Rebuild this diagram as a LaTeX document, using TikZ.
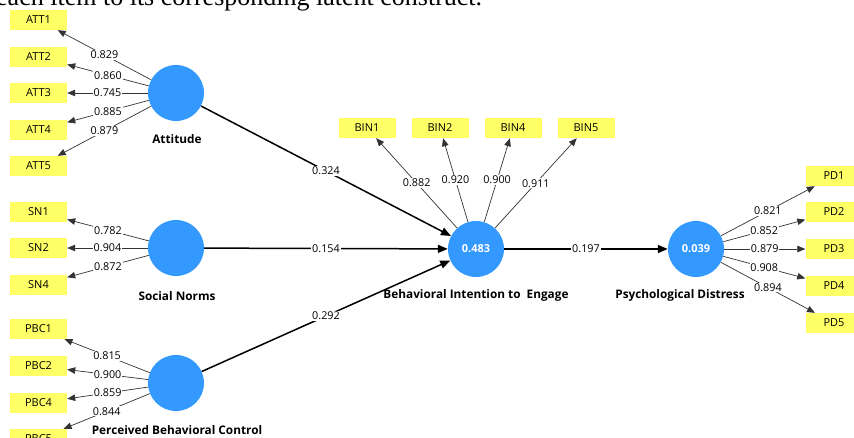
\documentclass[tikz,border=0pt]{standalone}
\usepackage{fontspec}
\setmainfont{Liberation Serif}
\newfontfamily\uifont{Open Sans}
\usetikzlibrary{arrows.meta}
\definecolor{lvblue}{RGB}{51,153,255}
\definecolor{indyellow}{RGB}{255,255,102}
\begin{document}
\begin{tikzpicture}[x=1pt,y=-1pt,
  indicator/.style={fill=indyellow, minimum width=57pt, minimum height=20pt, inner sep=0pt, font=\uifont\fontsize{11}{13}\selectfont},
  latent/.style={circle, fill=lvblue, minimum size=56pt, inner sep=0pt, font=\uifont\bfseries\fontsize{11}{13}\selectfont, text=white},
  lvlabel/.style={font=\uifont\bfseries\fontsize{11.8}{14}\selectfont, inner sep=0pt},
  meas/.style={draw=black!80, line width=0.7pt, -{Triangle[length=8pt,width=6.5pt]}},
  struct/.style={draw=black, line width=1.5pt, -{Triangle[length=10pt,width=8pt]}},
  wt/.style={fill=white, inner sep=0.8pt, font=\uifont\fontsize{10.8}{13}\selectfont},
]
\useasboundingbox (0,0) rectangle (854,437);
\clip (0,0) rectangle (854,437);

% top caption (cut off)
\node[anchor=base west, inner sep=0pt, font=\fontsize{26}{30}\selectfont] (cap) at (-4,5) {each item to its corresponding latent construct.};

% latent variables
\node[latent] (att) at (176,93) {};
\node[latent] (sn) at (176,248) {};
\node[latent] (pbc) at (176,383) {};
\node[latent] (bin) at (476,249) {0.483};
\node[latent] (pd) at (696,249) {0.039};

\node[lvlabel] (attl) at (177,139) {Attitude};
\node[lvlabel] (snl) at (177,296) {Social Norms};
\node[lvlabel] (pbcl) at (177,430) {Perceived Behavioral Control};
\node[lvlabel] (binl) at (476,295) {Behavioral Intention to\ \ Engage};
\node[lvlabel] (pdl) at (680,295) {Psychological Distress};

% indicators
\node[indicator] (att1) at (38.5,20) {ATT1};
\node[indicator] (att2) at (38.5,57) {ATT2};
\node[indicator] (att3) at (38.5,93) {ATT3};
\node[indicator] (att4) at (38.5,130) {ATT4};
\node[indicator] (att5) at (38.5,166) {ATT5};

\node[indicator] (sn1) at (38.5,212) {SN1};
\node[indicator] (sn2) at (38.5,248) {SN2};
\node[indicator] (sn4) at (38.5,285) {SN4};

\node[indicator] (pbc1) at (38.5,329) {PBC1};
\node[indicator] (pbc2) at (38.5,366) {PBC2};
\node[indicator] (pbc4) at (38.5,403) {PBC4};
\node[indicator] (pbc5) at (38.5,439) {PBC5};

\node[indicator] (bin1) at (367,128) {BIN1};
\node[indicator] (bin2) at (440,128) {BIN2};
\node[indicator] (bin4) at (513,128) {BIN4};
\node[indicator] (bin5) at (586,128) {BIN5};

\node[indicator] (pd1) at (834,176) {PD1};
\node[indicator] (pd2) at (834,212) {PD2};
\node[indicator] (pd3) at (834,249) {PD3};
\node[indicator] (pd4) at (834,286) {PD4};
\node[indicator] (pd5) at (834,323) {PD5};

% outer loadings
\draw[meas] (att) -- node[wt] {0.829} (att1);
\draw[meas] (att) -- node[wt] {0.860} (att2);
\draw[meas] (att) -- node[wt] {0.745} (att3);
\draw[meas] (att) -- node[wt] {0.885} (att4);
\draw[meas] (att) -- node[wt] {0.879} (att5);

\draw[meas] (sn) -- node[wt] {0.782} (sn1);
\draw[meas] (sn) -- node[wt] {0.904} (sn2);
\draw[meas] (sn) -- node[wt] {0.872} (sn4);

\draw[meas] (pbc) -- node[wt] {0.815} (pbc1);
\draw[meas] (pbc) -- node[wt] {0.900} (pbc2);
\draw[meas] (pbc) -- node[wt] {0.859} (pbc4);
\draw[meas] (pbc) -- node[wt] {0.844} (pbc5);

\draw[meas] (bin) -- node[wt] {0.882} (bin1);
\draw[meas] (bin) -- node[wt] {0.920} (bin2);
\draw[meas] (bin) -- node[wt] {0.900} (bin4);
\draw[meas] (bin) -- node[wt] {0.911} (bin5);

\draw[meas] (pd) -- node[wt] {0.821} (pd1);
\draw[meas] (pd) -- node[wt] {0.852} (pd2);
\draw[meas] (pd) -- node[wt] {0.879} (pd3);
\draw[meas] (pd) -- node[wt] {0.908} (pd4);
\draw[meas] (pd) -- node[wt] {0.894} (pd5);

% structural paths
\draw[struct] (att) -- node[wt] {0.324} (bin);
\draw[struct] (sn) -- node[wt] {0.154} (bin);
\draw[struct] (pbc) -- node[wt] {0.292} (bin);
\draw[struct] (bin) -- node[wt] {0.197} (pd);
\end{tikzpicture}
\end{document}
